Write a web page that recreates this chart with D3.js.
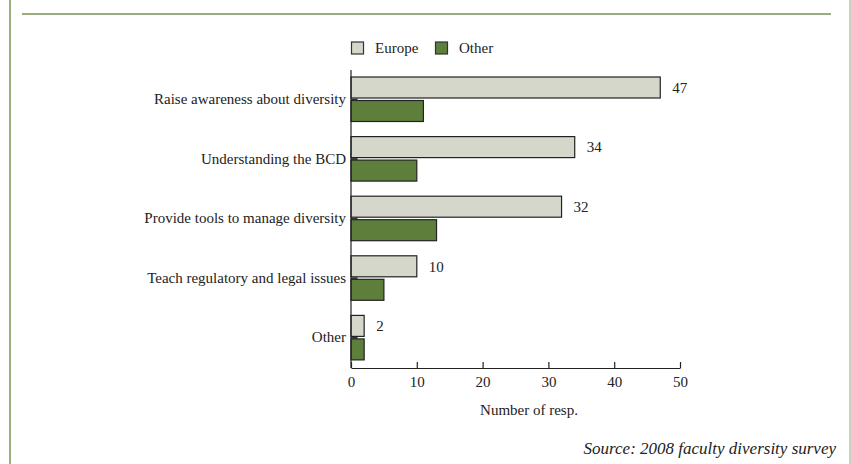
<!DOCTYPE html>
<html><head><meta charset="utf-8">
<script src="https://cdn.jsdelivr.net/npm/d3@7"></script>
<style>body{margin:0;background:#fff}svg{display:block}text{font-family:"Liberation Serif","DejaVu Serif",serif;fill:#222}</style>
</head><body><svg id="c" width="851" height="464"></svg>
<script>
const categories = ["Raise awareness about diversity","Understanding the BCD","Provide tools to manage diversity","Teach regulatory and legal issues","Other"];
const europe = [47,34,32,10,2];
const other = [11,10,13,5,2];
const seriesNames = ["Europe","Other"];
const xTicks = [0,10,20,30,40,50];

const svg = d3.select("#c");
const frame = "#9aae7c";
svg.append("rect").attr("x",9).attr("y",0).attr("width",2).attr("height",464).attr("fill",frame);
svg.append("rect").attr("x",22).attr("y",13).attr("width",809).attr("height",2).attr("fill",frame);
svg.append("rect").attr("x",849).attr("y",0).attr("width",2).attr("height",464).attr("fill","#c9d3bb");

const FS = 15;
const x = d3.scaleLinear().domain([0,50]).range([351,680]);
const y = d3.scaleBand().domain(categories).range([70,368]).paddingInner(0).paddingOuter(0);
const bh = 21, off1 = 7, off2 = 30.5;

const g = svg.append("g");
categories.forEach((c,i)=>{
  const y0 = y(c);
  g.append("rect").attr("x",x(0)).attr("y",y0+off1).attr("width",x(europe[i])-x(0)).attr("height",bh)
   .attr("fill","#d5d7ca").attr("stroke","#222").attr("stroke-width",1.2);
  g.append("rect").attr("x",x(0)).attr("y",y0+off2).attr("width",x(other[i])-x(0)).attr("height",bh)
   .attr("fill","#5e7e3c").attr("stroke","#222").attr("stroke-width",1.2);
  g.append("rect").attr("x",x(0)).attr("y",y0+off1+bh+0.5).attr("width",x(1)-x(0)).attr("height",2).attr("fill","#333");
  g.append("text").attr("x",x(europe[i])+12).attr("y",y0+off1+bh/2).attr("dy","0.35em").attr("font-size",FS).text(europe[i]);
  g.append("text").attr("x",346).attr("y",y0+y.bandwidth()/2-1).attr("dy","0.35em").attr("text-anchor","end").attr("font-size",FS).text(c);
});

svg.append("line").attr("x1",351).attr("x2",351).attr("y1",70).attr("y2",368).attr("stroke","#222").attr("stroke-width",1.2);

const xa = svg.append("g").attr("transform","translate(0,368)")
  .call(d3.axisBottom(x).tickValues(xTicks).tickSize(-6).tickPadding(8).tickSizeOuter(0));
xa.select(".domain").attr("stroke","#222").attr("stroke-width",1.2);
xa.selectAll(".tick line").attr("stroke","#222").attr("stroke-width",1.2);
xa.selectAll(".tick text").attr("font-size",FS).attr("font-family",'"Liberation Serif",serif').attr("fill","#222").attr("dy","0.71em");

svg.append("text").attr("x",529).attr("y",410).attr("dy","0.35em").attr("text-anchor","middle").attr("font-size",FS).text("Number of resp.");
svg.append("text").attr("x",836).attr("y",448).attr("dy","0.35em").attr("text-anchor","end").attr("font-size",17).attr("font-style","italic").text("Source: 2008 faculty diversity survey");

const lg = [{n:seriesNames[0],f:"#d5d7ca",x:351},{n:seriesNames[1],f:"#5e7e3c",x:435}];
lg.forEach(d=>{
  svg.append("rect").attr("x",d.x+0.5).attr("y",42).attr("width",12).attr("height",12).attr("fill",d.f).attr("stroke","#333").attr("stroke-width",1.2);
  svg.append("text").attr("x",d.x+24).attr("y",48).attr("dy","0.35em").attr("font-size",FS).text(d.n);
});
</script></body></html>
